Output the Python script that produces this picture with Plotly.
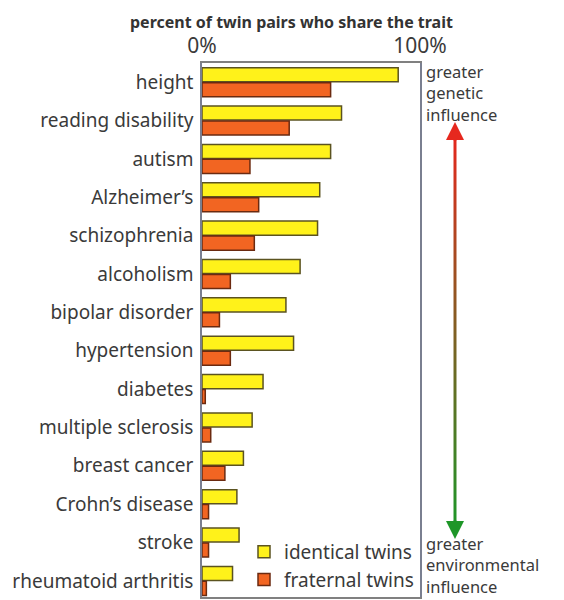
import plotly.graph_objects as go

categories = ["height", "reading disability", "autism", "Alzheimer’s", "schizophrenia",
              "alcoholism", "bipolar disorder", "hypertension", "diabetes",
              "multiple sclerosis", "breast cancer", "Crohn’s disease", "stroke",
              "rheumatoid arthritis"]
identical = [90, 64, 59, 54, 53, 45, 38.5, 42, 28, 23, 19, 16, 17, 14]
fraternal = [59, 40, 22, 26, 24, 13, 8, 13, 1.5, 4, 10.5, 3, 3, 2]

FONT = "Noto Sans"
TXT = "#3a3a3a"
fig = go.Figure()
fig.add_trace(go.Bar(y=categories, x=identical, orientation="h", name="identical twins",
                     marker=dict(color="#FFF21A", line=dict(color="#5b5320", width=1.5))))
fig.add_trace(go.Bar(y=categories, x=fraternal, orientation="h", name="fraternal twins",
                     marker=dict(color="#F26522", line=dict(color="#6b2a10", width=1.5))))

# page has an 8px body margin; positions below are given in window pixels
OFF = 8
W, H = 556, 592
L, R, T, B = 194, 144, 55, 3
pw, ph = W - L - R, H - T - B
def px(xw):
    return (xw - OFF - L) / pw
def py(yw):
    return (H - B - (yw - OFF)) / ph

fig.update_layout(
    width=W, height=H, margin=dict(l=L, r=R, t=T, b=B, autoexpand=False),
    paper_bgcolor="white", plot_bgcolor="white",
    barmode="group", bargap=0.22, bargroupgap=0.06,
    font=dict(family=FONT, color=TXT),
    showlegend=True,
    legend=dict(x=px(244), y=py(599), xanchor="left", yanchor="bottom",
                bgcolor="rgba(255,255,255,0)", font=dict(size=19, color=TXT),
                itemwidth=30, tracegroupgap=0),
    xaxis=dict(range=[0, 100], side="top", tickvals=[0, 100], ticktext=["0%", "100%"],
               tickfont=dict(size=21, color=TXT), showgrid=False, zeroline=False,
               showline=True, linecolor="#808080", linewidth=1.5, mirror=True, ticks="",
               automargin=False),
    yaxis=dict(range=[13.42, -0.5], tickfont=dict(size=19, color=TXT),
               showgrid=False, showline=True, linecolor="#7a7f90", linewidth=1.5,
               mirror=True, ticks="", ticklabelstandoff=3, automargin=False),
)

fig.add_annotation(text="<b>percent of twin pairs who share the trait</b>", xref="paper", yref="paper",
                   x=px(291), y=py(22), showarrow=False, font=dict(size=16, color="#333333", family=FONT),
                   xanchor="center", yanchor="middle")

fig.add_annotation(text="greater<br>genetic<br>influence", xref="paper", yref="paper",
                   x=px(424), y=py(58), xanchor="left", yanchor="top", align="left",
                   showarrow=False, font=dict(size=16.5, color=TXT, family=FONT))
fig.add_annotation(text="greater<br>environmental<br>influence", xref="paper", yref="paper",
                   x=px(424), y=py(599.5), xanchor="left", yanchor="bottom", align="left",
                   showarrow=False, font=dict(size=16.5, color=TXT, family=FONT))

ax = px(455)
y_top, y_bot = 130, 530
n = 40
for i in range(n):
    t = i / (n - 1)
    r = int(230 * (1 - t) + 30 * t)
    g = int(40 * (1 - t) + 150 * t)
    b = int(30 * (1 - t) + 40 * t)
    y0 = y_top + (y_bot - y_top) * i / n
    y1 = y_top + (y_bot - y_top) * (i + 1) / n
    fig.add_shape(type="line", xref="paper", yref="paper", x0=ax, x1=ax,
                  y0=py(y0), y1=py(y1), line=dict(color=f"rgb({r},{g},{b})", width=3))
fig.add_annotation(xref="paper", yref="paper", x=ax, y=py(122), ax=0, ay=20,
                   text="", showarrow=True, arrowhead=2,
                   arrowsize=1.2, arrowwidth=3, arrowcolor="rgb(230,40,30)")
fig.add_annotation(xref="paper", yref="paper", x=ax, y=py(539), ax=0, ay=-20,
                   text="", showarrow=True, arrowhead=2,
                   arrowsize=1.2, arrowwidth=3, arrowcolor="rgb(30,150,40)")

fig.write_html("out.html")
